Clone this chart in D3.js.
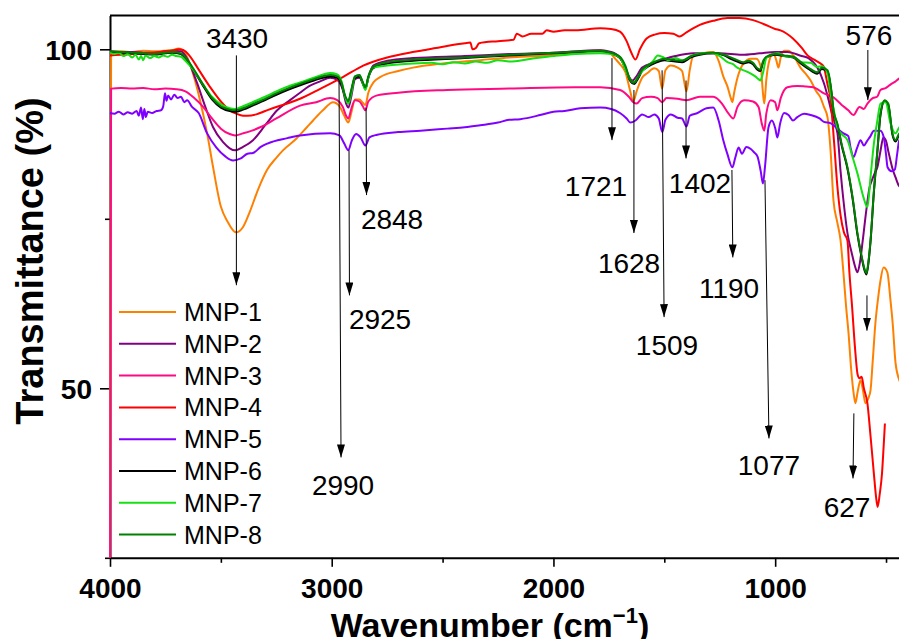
<!DOCTYPE html>
<html><head><meta charset="utf-8">
<script src="https://cdn.jsdelivr.net/npm/d3@7"></script>
<style>
body{margin:0;background:#fff}
svg{display:block}
text{font-family:"Liberation Sans",Arial,Helvetica,sans-serif}
</style>
</head><body>
<svg id="chart" width="899" height="639"></svg>
<script>
// ---------- DATA (wavenumber cm-1, transmittance %) ----------
const mnp1 = [[4000,20],[3995,99.6],[3950,99.7],[3900,99.6],[3850,99.8],[3800,99.7],[3750,99.8],[3720,99.9],[3690,100.1],[3665,99.6],[3640,97.9],[3615,95.2],[3594,92.5],[3562,87.6],[3535,82.6],[3500,76.8],[3470,74.6],[3432,73.0],[3400,73.8],[3370,76.0],[3330,79.5],[3292,82.2],[3250,84.0],[3220,85.1],[3160,86.8],[3112,88.5],[3084,89.5],[3040,91.0],[2994,92.2],[2965,91.6],[2945,90.3],[2925,89.2],[2912,90.6],[2895,92.6],[2875,92.6],[2860,92.1],[2848,91.8],[2835,93.6],[2810,95.2],[2782,95.9],[2700,96.8],[2633,97.3],[2500,97.9],[2330,98.4],[2200,98.8],[2028,99.1],[1900,99.5],[1789,99.85],[1760,99.7],[1740,99.3],[1721,98.6],[1700,97.8],[1675,96.6],[1655,94.0],[1640,92.3],[1625,93.8],[1600,95.8],[1576,96.5],[1545,97.2],[1525,96.8],[1510,94.2],[1495,96.9],[1470,97.6],[1440,97.3],[1420,96.8],[1400,93.8],[1385,97.0],[1369,99.1],[1330,99.4],[1279,99.6],[1255,98.3],[1234,96.0],[1215,94.5],[1200,92.8],[1193,92.2],[1185,93.6],[1170,95.8],[1143,97.9],[1110,98.6],[1085,98.6],[1065,97.4],[1055,93.5],[1049,92.0],[1040,95.5],[1025,98.5],[1008,99.4],[995,98.4],[985,97.3],[975,98.8],[960,99.8],[940,99.8],[918,99.1],[886,97.3],[860,96.3],[840,95.4],[815,93.8],[796,92.9],[780,91.5],[764,90.0],[750,85.0],[737,77.7],[720,74.5],[705,71.8],[692,67.0],[680,62.0],[669,58.1],[657,52.7],[645,49.0],[638,47.8],[628,49.5],[615,51.2],[603,49.5],[593,47.8],[580,48.5],[570,49.7],[560,54.0],[548,59.6],[535,63.5],[525,65.9],[511,67.8],[494,67.1],[480,63.0],[470,59.6],[457,53.7],[440,51.2],[420,50.0]];

const mnp2 = [[4000,99.7],[3950,99.6],[3900,99.6],[3850,99.5],[3800,99.5],[3750,99.7],[3720,99.8],[3680,99.7],[3650,98.5],[3607,95.0],[3570,91.5],[3535,88.5],[3490,86.3],[3460,85.4],[3436,85.1],[3400,85.6],[3355,86.6],[3300,88.8],[3246,91.0],[3188,92.5],[3143,93.6],[3100,94.6],[3050,95.3],[3007,95.8],[2975,95.5],[2950,94.0],[2935,92.0],[2925,91.4],[2912,93.0],[2895,95.6],[2875,95.8],[2860,95.0],[2848,94.2],[2835,95.8],[2813,97.6],[2750,98.3],[2633,98.7],[2400,99.0],[2200,99.3],[2000,99.5],[1789,99.85],[1740,99.6],[1700,98.8],[1680,97.5],[1660,96.0],[1644,95.4],[1630,95.8],[1600,97.3],[1540,98.1],[1450,99.0],[1369,99.4],[1250,99.4],[1150,99.2],[1070,99.4],[1000,99.6],[945,99.6],[880,99.0],[850,98.7],[810,97.3],[780,95.0],[762,92.9],[740,90.0],[719,87.6],[705,82.0],[692,77.7],[674,72.9],[655,70.0],[640,68.0],[629,67.1],[618,68.5],[605,71.8],[590,76.0],[575,79.5],[560,81.0],[550,81.8],[539,82.6],[525,85.0],[512,87.0],[500,86.5],[490,85.0],[480,83.6],[470,82.3],[457,81.1],[440,79.8],[420,79.5]];

const mnp3 = [[4000,20],[3995,94.2],[3950,94.3],[3900,94.2],[3850,94.3],[3800,94.1],[3750,94.2],[3700,94.1],[3660,93.8],[3620,92.8],[3580,91.5],[3540,89.8],[3500,88.3],[3460,87.5],[3436,87.3],[3400,87.6],[3360,88.0],[3323,88.5],[3250,89.8],[3143,91.7],[3070,92.2],[3007,92.8],[2975,92.5],[2950,91.5],[2935,90.2],[2925,89.8],[2912,91.2],[2895,92.5],[2875,92.3],[2860,91.6],[2848,91.0],[2835,92.3],[2795,93.2],[2700,93.6],[2479,94.0],[2200,94.2],[1900,94.4],[1789,94.4],[1700,94.0],[1660,93.0],[1640,92.2],[1625,92.0],[1600,92.8],[1560,93.0],[1530,92.8],[1510,92.2],[1490,92.8],[1440,92.7],[1400,92.5],[1340,93.0],[1279,93.0],[1240,92.0],[1210,90.5],[1189,89.8],[1170,91.5],[1140,92.5],[1100,92.3],[1075,91.5],[1060,89.0],[1049,88.0],[1040,90.5],[1020,92.5],[1000,92.2],[990,91.0],[975,92.8],[945,94.4],[900,94.6],[860,94.5],[828,94.4],[780,93.5],[737,92.9],[700,91.8],[670,91.0],[647,90.3],[620,91.5],[600,91.2],[584,92.0],[560,92.8],[540,93.0],[525,94.0],[500,94.3],[480,94.8],[460,95.2],[440,95.7],[420,96.0]];

const mnp4 = [[4000,99.1],[3950,99.2],[3900,99.3],[3850,99.4],[3800,99.5],[3750,99.7],[3720,99.8],[3690,100.0],[3670,99.9],[3640,99.0],[3600,97.0],[3550,94.5],[3500,92.3],[3460,91.0],[3430,90.5],[3400,90.2],[3380,90.2],[3340,90.4],[3300,90.9],[3250,91.5],[3200,92.0],[3143,92.7],[3050,94.2],[2950,95.9],[2858,97.6],[2750,98.8],[2650,99.5],[2587,99.85],[2480,100.5],[2400,100.9],[2375,101.0],[2365,100.0],[2350,100.2],[2335,100.9],[2250,101.2],[2180,101.4],[2165,102.3],[2140,101.9],[2100,102.3],[2050,102.3],[2030,102.8],[2000,102.6],[1950,102.8],[1900,102.8],[1789,103.1],[1740,103.0],[1700,102.6],[1670,101.2],[1650,99.6],[1630,98.5],[1610,100.0],[1580,101.6],[1540,102.2],[1500,102.4],[1460,102.3],[1430,101.9],[1400,102.5],[1340,103.6],[1280,104.2],[1215,104.6],[1160,104.6],[1100,104.3],[1050,103.7],[1000,103.0],[976,102.8],[920,101.6],[880,100.2],[854,99.1],[820,98.4],[800,98.0],[782,97.5],[765,95.0],[750,92.5],[735,86.6],[720,80.0],[705,75.5],[690,73.0],[674,71.8],[665,67.0],[653,62.0],[640,56.0],[628,52.0],[620,51.5],[610,51.7],[600,50.0],[584,47.8],[570,43.0],[555,37.5],[545,34.0],[538,32.5],[528,34.5],[518,37.5],[511,41.3],[505,44.8]];

const mnp5 = [[4000,90.6],[3980,90.5],[3960,90.8],[3940,90.4],[3920,90.7],[3900,90.5],[3880,90.9],[3870,90.2],[3860,91.4],[3852,89.7],[3845,91.2],[3838,90.0],[3830,90.8],[3810,90.6],[3790,90.9],[3770,91.0],[3760,91.6],[3752,93.5],[3745,92.4],[3738,93.2],[3725,92.6],[3710,93.3],[3695,92.8],[3680,93.0],[3665,92.2],[3652,92.5],[3630,91.5],[3600,90.6],[3562,87.6],[3520,85.5],[3480,84.2],[3445,83.6],[3410,83.9],[3380,84.6],[3355,84.7],[3320,85.6],[3290,86.1],[3200,86.9],[3143,87.3],[3007,87.6],[2965,87.3],[2945,86.2],[2925,85.1],[2910,86.5],[2890,87.5],[2870,87.0],[2848,85.8],[2830,87.0],[2795,87.4],[2700,87.8],[2600,88.0],[2479,88.3],[2400,88.5],[2330,88.8],[2250,89.2],[2200,89.6],[2150,89.7],[2060,90.3],[2000,90.8],[1950,90.9],[1879,91.3],[1789,91.4],[1740,91.2],[1700,90.6],[1670,89.8],[1653,89.2],[1630,89.5],[1600,90.4],[1570,90.0],[1545,90.4],[1525,89.8],[1509,87.8],[1495,89.6],[1470,90.4],[1440,89.9],[1420,89.8],[1400,88.6],[1385,90.2],[1350,90.6],[1310,91.3],[1279,91.4],[1255,89.5],[1234,86.6],[1215,84.5],[1193,82.6],[1180,84.0],[1165,85.5],[1150,84.6],[1130,85.6],[1110,85.3],[1095,84.8],[1080,84.2],[1065,82.0],[1055,80.2],[1045,83.0],[1030,88.5],[1015,89.5],[1000,88.4],[990,87.0],[978,89.0],[960,90.6],[940,90.3],[920,89.5],[900,90.0],[870,90.5],[840,90.3],[800,89.8],[780,89.3],[751,89.1],[720,88.3],[692,87.6],[670,87.2],[660,85.5],[647,84.1],[630,85.5],[615,86.6],[600,85.8],[585,86.5],[570,87.2],[555,88.0],[540,88.0],[525,88.0],[510,87.0],[500,84.5],[493,82.6],[475,82.0],[460,82.3],[450,84.5],[440,86.6],[420,87.0]];

const mnp6 = [[4000,99.6],[3950,99.5],[3900,99.4],[3850,99.3],[3800,99.2],[3750,99.4],[3720,99.5],[3680,99.3],[3660,98.7],[3625,97.0],[3580,94.6],[3540,92.6],[3500,91.4],[3460,90.9],[3436,90.8],[3400,91.1],[3350,91.8],[3300,92.5],[3250,93.3],[3200,94.0],[3143,94.7],[3080,95.4],[3007,96.0],[2975,95.8],[2955,94.8],[2940,93.0],[2925,92.2],[2912,93.8],[2895,95.8],[2875,96.0],[2860,95.0],[2848,94.2],[2835,95.8],[2813,97.2],[2750,97.9],[2633,98.3],[2400,98.7],[2200,99.1],[2000,99.4],[1789,99.7],[1740,99.4],[1700,98.7],[1675,97.3],[1655,95.4],[1635,94.9],[1620,95.6],[1600,96.8],[1576,97.4],[1540,98.0],[1500,98.4],[1450,98.2],[1420,98.1],[1380,98.8],[1340,99.2],[1279,99.4],[1230,99.1],[1200,98.6],[1171,98.2],[1143,97.9],[1120,98.1],[1100,97.8],[1080,97.0],[1067,96.8],[1055,98.0],[1040,98.8],[1000,99.2],[960,99.0],[918,98.8],[880,97.8],[850,97.1],[810,96.4],[790,97.1],[764,96.7],[745,93.3],[737,90.8],[719,88.8],[700,85.8],[674,82.4],[650,77.8],[629,72.7],[610,69.3],[595,67.2],[588,66.8],[580,68.3],[570,71.6],[555,78.8],[539,84.9],[525,90.3],[507,92.3],[490,91.8],[471,87.4],[457,86.4],[440,87.4],[420,87.6]];

const mnp7 = [[4000,99.6],[3980,99.3],[3960,99.5],[3940,99.0],[3920,99.3],[3900,98.8],[3885,99.2],[3870,98.5],[3860,99.0],[3850,98.4],[3840,99.1],[3820,98.7],[3800,99.0],[3780,98.8],[3760,99.1],[3740,98.9],[3720,99.2],[3700,99.0],[3680,98.9],[3660,98.3],[3625,97.0],[3580,94.8],[3540,93.0],[3500,91.9],[3460,91.3],[3436,91.2],[3400,91.6],[3350,92.3],[3300,93.0],[3250,93.8],[3200,94.5],[3143,95.1],[3080,95.8],[3007,96.5],[2975,96.3],[2955,95.2],[2940,93.0],[2925,92.0],[2912,93.5],[2895,96.0],[2875,96.2],[2860,95.0],[2848,94.0],[2835,95.8],[2813,97.3],[2750,97.6],[2633,97.9],[2550,98.0],[2500,97.8],[2450,98.1],[2400,97.9],[2350,98.2],[2300,98.0],[2250,98.4],[2200,98.2],[2100,98.6],[2000,99.0],[1900,99.3],[1789,99.4],[1740,99.3],[1700,98.8],[1675,97.0],[1655,95.6],[1640,95.1],[1625,95.6],[1600,96.8],[1576,97.5],[1550,98.3],[1530,99.1],[1510,98.9],[1480,98.4],[1450,98.7],[1420,98.4],[1400,98.6],[1380,99.0],[1340,99.4],[1290,99.5],[1250,99.0],[1215,98.1],[1190,97.8],[1171,97.3],[1150,97.0],[1120,96.6],[1090,96.0],[1075,95.6],[1067,95.4],[1055,96.5],[1040,98.7],[1010,99.3],[985,99.4],[960,99.0],[920,98.9],[880,98.1],[840,98.0],[810,97.4],[790,97.5],[764,96.5],[750,93.5],[735,91.0],[720,88.5],[700,87.5],[674,86.6],[650,84.0],[629,81.7],[602,78.2],[584,76.7],[570,81.1],[555,86.0],[539,89.5],[525,92.0],[502,92.2],[480,89.1],[457,87.6],[440,88.5],[420,88.8]];

const mnp8 = [[4000,99.7],[3950,99.6],[3900,99.5],[3850,99.4],[3800,99.3],[3750,99.5],[3720,99.6],[3680,99.4],[3660,98.8],[3625,97.2],[3580,94.8],[3540,92.8],[3500,91.6],[3460,91.1],[3436,91.0],[3400,91.3],[3350,92.0],[3300,92.7],[3250,93.5],[3200,94.2],[3143,94.9],[3080,95.6],[3007,96.2],[2975,96.0],[2955,95.0],[2940,93.2],[2925,92.4],[2912,94.0],[2895,96.0],[2875,96.2],[2860,95.2],[2848,94.4],[2835,96.0],[2813,97.4],[2750,98.1],[2633,98.5],[2400,98.8],[2200,99.2],[2000,99.5],[1789,99.8],[1740,99.5],[1700,98.9],[1675,97.5],[1655,95.6],[1635,95.1],[1620,95.8],[1600,97.0],[1576,97.6],[1540,98.2],[1500,98.6],[1450,98.4],[1420,98.3],[1380,99.0],[1340,99.3],[1279,99.5],[1230,99.2],[1200,98.8],[1171,98.4],[1143,98.1],[1120,98.3],[1100,98.0],[1080,97.2],[1067,97.0],[1055,98.2],[1040,98.9],[1000,99.3],[960,99.1],[918,98.9],[880,98.0],[850,97.3],[810,96.6],[790,97.3],[764,96.9],[745,93.5],[737,91.0],[719,89.0],[700,86.0],[674,82.6],[650,78.0],[629,72.9],[610,69.5],[595,67.4],[588,67.0],[580,68.5],[570,71.8],[555,79.0],[539,85.1],[525,90.5],[507,92.5],[490,92.0],[471,87.6],[457,86.6],[440,87.6],[420,87.8]];

const seriesNames = ["MNP-1","MNP-2","MNP-3","MNP-4","MNP-5","MNP-6","MNP-7","MNP-8"];
const seriesData = [mnp1, mnp2, mnp3, mnp4, mnp5, mnp6, mnp7, mnp8];
const xTickValues = [4000,3500,3000,2500,2000,1500,1000,500];
const xTickLabels = [4000,3000,2000,1000];
const yTickValues = [25,50,75,100];
const yTickLabels = [50,100];

// peak annotations (wavenumber / transmittance units)
const annLabels = ["3430","2990","2925","2848","1721","1628","1509","1402","1190","1077","576","","627"];
const annStart  = [[3430,99.1],[2967,95.1],[2922,85.1],[2845,91.4],[1736,98.7],[1637,94.0],[1510,96.9],[1402,95.4],[1195,82.2],[1046,80.7],[582,99.9],[586,63.7],[645,46.3]];
const annEnd    = [[3430,65.2],[2958,39.8],[2920,63.7],[2843,78.5],[1736,86.6],[1637,72.9],[1501,60.5],[1402,83.9],[1191,69.3],[1028,42.6],[582,92.5],[586,58.5],[649,36.7]];
const annText   = [[3427,100.2],[2949,34.2],[2782,58.7],[2728,73.5],[1808,78.3],[1659,67.0],[1488,54.9],[1339,78.8],[1208,63.3],[1028,37.2],[577,100.6],[586,58],[676,31.0]];

// ---------- STYLE ----------
const colors = ["#ff8000","#800080","#ff0a84","#ff0000","#8000ff","#000000","#14e014","#008000"];

const svg = d3.select("#chart");
const x = d3.scaleLinear().domain([4000,400]).range([110,908.2]);
const y = d3.scaleLinear().domain([25,105]).range([557.8,15.4]);

svg.append("defs").append("clipPath").attr("id","clip")
  .append("rect").attr("x",109).attr("y",y(105)).attr("width",800).attr("height",y(25)-y(105));

svg.append("defs").append("marker").attr("id","arr")
  .attr("viewBox","0 0 13 8").attr("refX",13).attr("refY",4)
  .attr("markerWidth",13).attr("markerHeight",8).attr("markerUnits","userSpaceOnUse")
  .attr("orient","auto")
  .append("path").attr("d","M0,0 L13,4 L0,8 Z").attr("fill","#000");

// top frame line
svg.append("line").attr("x1",x(4000)).attr("x2",899).attr("y1",y(105)).attr("y2",y(105))
  .attr("stroke","#000").attr("stroke-width",2);

// axes
const xAxis = d3.axisBottom(x).tickValues(xTickValues)
  .tickFormat(d => xTickLabels.includes(d) ? d : "").tickSize(9).tickSizeOuter(0);
const gx = svg.append("g").attr("transform",`translate(0,${y(25)})`).call(xAxis);
gx.select(".domain").attr("stroke-width",2);
gx.selectAll(".tick line").attr("stroke-width",1.6)
  .attr("y2", d => xTickLabels.includes(d) ? 9 : 5);
gx.selectAll(".tick text").attr("y",40).attr("dy",0)
  .attr("font-size",28).attr("font-weight","bold").attr("fill","#000")
  .attr("font-family","'Liberation Sans',Arial,sans-serif");

const yAxis = d3.axisLeft(y).tickValues(yTickValues)
  .tickFormat(d => yTickLabels.includes(d) ? d : "").tickSize(10).tickSizeOuter(0);
const gy = svg.append("g").attr("transform",`translate(${x(4000)},0)`).call(yAxis);
gy.select(".domain").attr("stroke-width",2);
gy.selectAll(".tick line").attr("stroke-width",1.6)
  .attr("x2", d => yTickLabels.includes(d) ? -10 : -5);
gy.selectAll(".tick text").attr("x",-18).attr("dy","0.36em")
  .attr("font-size",28).attr("font-weight","bold").attr("fill","#000")
  .attr("font-family","'Liberation Sans',Arial,sans-serif");

// axis titles
svg.append("text").attr("transform","translate(43,261) rotate(-90)")
  .attr("text-anchor","middle").attr("font-size",38).attr("font-weight","bold")
  .text("Transmittance (%)");
const xt = svg.append("text").attr("x",490).attr("y",637)
  .attr("text-anchor","middle").attr("font-size",34).attr("font-weight","bold");
xt.append("tspan").text("Wavenumber (cm");
xt.append("tspan").attr("dy",-14).attr("font-size",22).text("\u22121");
xt.append("tspan").attr("dy",14).text(")");

// spectra
const line = d3.line().x(d => x(d[0])).y(d => y(d[1])).curve(d3.curveMonotoneX);
const gs = svg.append("g").attr("clip-path","url(#clip)");
seriesData.forEach((s,i) => {
  gs.append("path").datum(s).attr("d",line).attr("fill","none")
    .attr("stroke",colors[i]).attr("stroke-width",2).attr("stroke-linejoin","round");
});

// annotations
annLabels.forEach((lab,i) => {
  svg.append("line")
    .attr("x1",x(annStart[i][0])).attr("y1",y(annStart[i][1]))
    .attr("x2",x(annEnd[i][0])).attr("y2",y(annEnd[i][1]))
    .attr("stroke","#000").attr("stroke-width",1).attr("marker-end","url(#arr)");
  if (lab) svg.append("text").attr("x",x(annText[i][0])).attr("y",y(annText[i][1]))
    .attr("text-anchor","middle").attr("font-size",28).attr("fill","#000").text(lab);
});

// legend
const lg = svg.append("g");
seriesNames.forEach((n,i) => {
  const yy = 312 + i*31.8;
  lg.append("line").attr("x1",119).attr("x2",176).attr("y1",yy).attr("y2",yy)
    .attr("stroke",colors[i]).attr("stroke-width",2);
  lg.append("text").attr("x",184).attr("y",yy+9).attr("font-size",25).attr("fill","#000").text(n);
});
</script>
</body></html>
